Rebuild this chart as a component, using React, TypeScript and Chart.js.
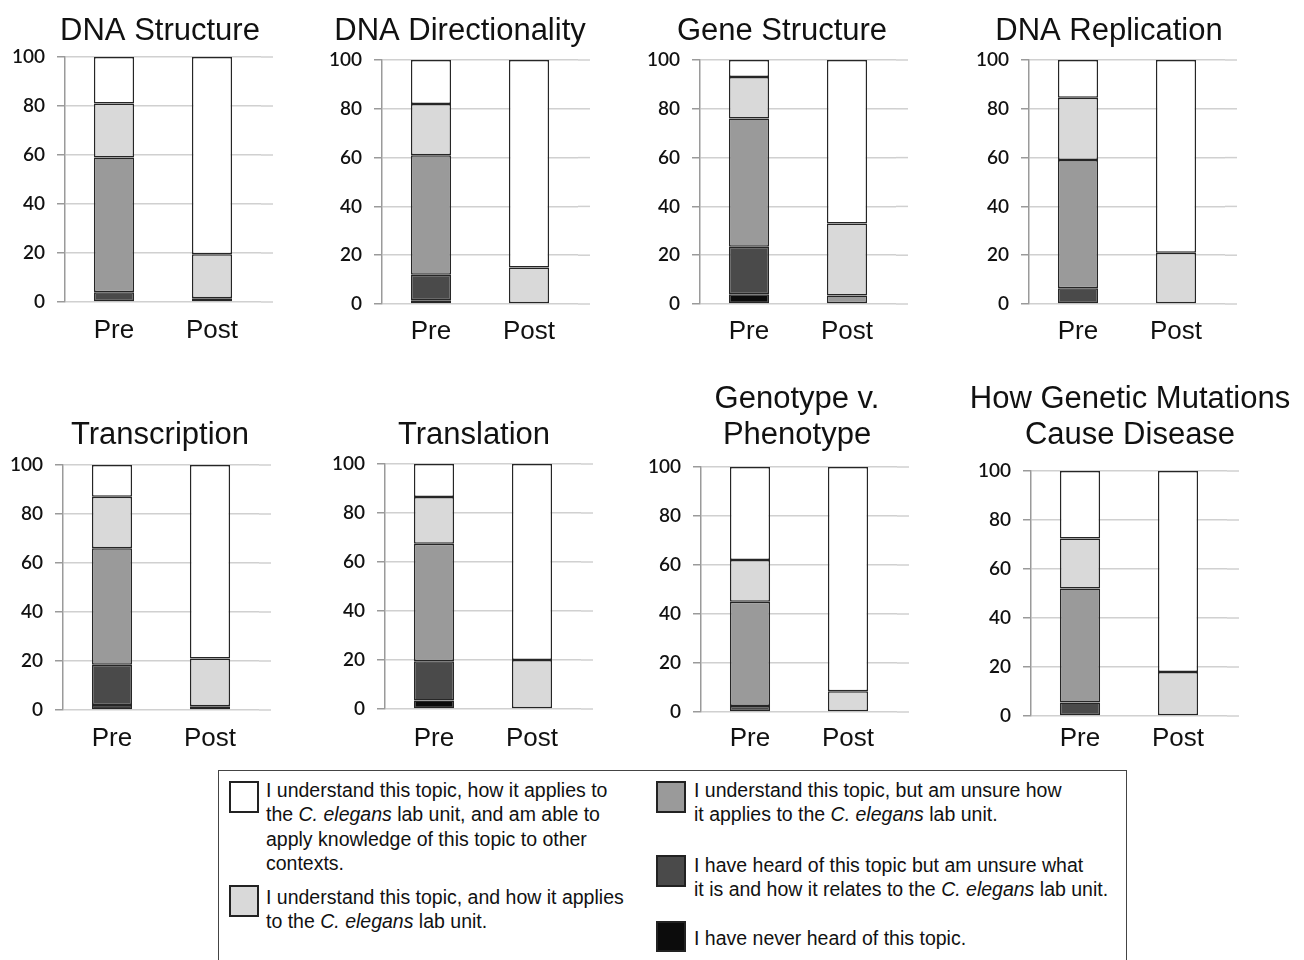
import React, { useEffect, useRef } from 'react';
import { Chart, registerables } from 'chart.js';

Chart.register(...registerables);

// ---------- data ----------
const TOPIC_TITLES: string[][] = [
  ['DNA Structure'],
  ['DNA Directionality'],
  ['Gene Structure'],
  ['DNA Replication'],
  ['Transcription'],
  ['Translation'],
  ['Genotype v.', 'Phenotype'],
  ['How Genetic Mutations', 'Cause Disease'],
];
const PHASES = ['Pre', 'Post'];
const Y_MIN = 0;
const Y_MAX = 100;
const Y_STEP = 20;

// percentages per topic (bottom of stack to top)
const NEVER_PRE = [0, 1.5, 4, 0, 2, 3.5, 0, 0];
const NEVER_POST = [0, 0, 0, 0, 0, 0, 0, 0];
const HEARD_PRE = [4, 10.5, 19.5, 6.5, 16.5, 16, 2.5, 5.5];
const HEARD_POST = [0, 0, 0, 0, 0, 0, 0, 0];
const UNSURE_PRE = [55, 49, 52.5, 52.5, 47.5, 48, 42.5, 46.5];
const UNSURE_POST = [1.5, 0, 3.5, 0, 1.5, 0, 0, 0];
const APPLIES_PRE = [22, 21, 17, 25.5, 21, 19, 17, 20.5];
const APPLIES_POST = [18, 15, 29.5, 21, 19.5, 20, 8.5, 18];
const OTHER_PRE = [19, 18, 7, 15.5, 13, 13.5, 38, 27.5];
const OTHER_POST = [80.5, 85, 67, 79, 79, 80, 91.5, 82];

const LEVEL_NAMES = [
  'I have never heard of this topic.',
  'I have heard of this topic but am unsure what it is and how it relates to the C. elegans lab unit.',
  'I understand this topic, but am unsure how it applies to the C. elegans lab unit.',
  'I understand this topic, and how it applies to the C. elegans lab unit.',
  'I understand this topic, how it applies to the C. elegans lab unit, and am able to apply knowledge of this topic to other contexts.',
];
const PRE_SERIES = [NEVER_PRE, HEARD_PRE, UNSURE_PRE, APPLIES_PRE, OTHER_PRE];
const POST_SERIES = [NEVER_POST, HEARD_POST, UNSURE_POST, APPLIES_POST, OTHER_POST];

// legend lines (*...* = italic)
const LEGEND_WHITE = [
  'I understand this topic, how it applies to',
  'the *C. elegans* lab unit, and am able to',
  'apply knowledge of this topic to other',
  'contexts.',
];
const LEGEND_LIGHT = ['I understand this topic, and how it applies', 'to the *C. elegans* lab unit.'];
const LEGEND_MID = ['I understand this topic, but am unsure how', 'it applies to the *C. elegans* lab unit.'];
const LEGEND_DARK = ['I have heard of this topic but am unsure what', 'it is and how it relates to the *C. elegans* lab unit.'];
const LEGEND_BLACK = ['I have never heard of this topic.'];

// ---------- styles / layout ----------
const COLORS = ['#0c0c0c', '#4a4a4a', '#9a9a9a', '#d9d9d9', '#ffffff'];
const BAR_BORDER = '#262626';
const GRID_COLOR = '#d0d0d0';
const AXIS_COLOR = '#9a9a9a';
const PLOT_W = 196;
const Y_W = 90;
const TITLE_LH = 36;

const LAYOUT = [
  { axisX: 65, yTop: 57, yBottom: 302, titleY: 31, d: 95, labelY: 330 },
  { axisX: 382, yTop: 60, yBottom: 304, titleY: 31, d: 78, labelY: 331 },
  { axisX: 700, yTop: 60, yBottom: 304, titleY: 31, d: 82, labelY: 331 },
  { axisX: 1029, yTop: 60, yBottom: 304, titleY: 31, d: 80, labelY: 331 },
  { axisX: 63, yTop: 465, yBottom: 710, titleY: 435, d: 97, labelY: 738 },
  { axisX: 385, yTop: 464, yBottom: 709, titleY: 435, d: 89, labelY: 738 },
  { axisX: 701, yTop: 467, yBottom: 712, titleY: 435, d: 96, labelY: 738 },
  { axisX: 1031, yTop: 471, yBottom: 716, titleY: 435, d: 99, labelY: 738 },
];

const gridExtend = {
  id: 'gridExtend',
  beforeDatasetsDraw(chart: any) {
    const { ctx, chartArea, scales } = chart;
    const y = scales.y;
    ctx.save();
    ctx.strokeStyle = GRID_COLOR;
    ctx.lineWidth = 1.5;
    y.ticks.forEach((t: any) => {
      const py = y.getPixelForValue(t.value);
      ctx.beginPath();
      ctx.moveTo(chartArea.right, py);
      ctx.lineTo(chartArea.right + 12, py);
      ctx.stroke();
    });
    ctx.restore();
  },
};

function geom(i: number) {
  const L = LAYOUT[i];
  const lines = TOPIC_TITLES[i].length;
  const R = 2 * L.d + Y_W - PLOT_W;
  const left = L.axisX - Y_W;
  const width = 2 * (L.d + Y_W);
  const top = L.titleY + TITLE_LH / 2 - lines * TITLE_LH;
  const pb = L.yTop - L.titleY - TITLE_LH / 2;
  const height = L.yBottom + 45 - top;
  return { L, R, left, width, top, pb, height };
}

function Panel({ index }: { index: number }) {
  const ref = useRef<HTMLCanvasElement | null>(null);
  const g = geom(index);
  useEffect(() => {
    if (!ref.current) return;
    const { L, R, pb } = g;
    const chart = new Chart(ref.current, {
      type: 'bar',
      data: {
        labels: PHASES,
        datasets: LEVEL_NAMES.map((name, k) => ({
          label: name,
          data: [PRE_SERIES[k][index], POST_SERIES[k][index]],
          backgroundColor: COLORS[k],
          borderColor: BAR_BORDER,
          borderWidth: (c: any) => (c.raw ? 1.5 : 0),
          borderSkipped: false,
          categoryPercentage: 1,
          barPercentage: 0.41,
        })),
      },
      options: {
        animation: false,
        responsive: false,
        layout: { padding: 0 },
        plugins: {
          legend: { display: false },
          tooltip: { enabled: false },
          title: {
            display: true,
            text: TOPIC_TITLES[index],
            color: '#111',
            font: { family: 'Liberation Sans, Arial, sans-serif', size: 31, weight: 'normal', lineHeight: 36 / 31 },
            padding: { top: 0, bottom: pb },
          },
        },
        scales: {
          x: {
            stacked: true,
            grid: { display: false, drawTicks: false },
            border: { display: false },
            ticks: {
              color: '#111',
              font: { family: 'Liberation Sans, Arial, sans-serif', size: 26 },
              padding: L.labelY - L.yBottom - 15,
            },
            afterFit: (s: any) => {
              s.height = 45;
            },
          },
          y: {
            stacked: true,
            min: Y_MIN,
            max: Y_MAX,
            ticks: {
              stepSize: Y_STEP,
              color: '#111',
              font: { family: 'Lato, sans-serif', size: 19, weight: '600' },
              padding: 12,
            },
            grid: { color: GRID_COLOR, lineWidth: 1.5, tickLength: 8, tickColor: AXIS_COLOR, drawTicks: true },
            border: { color: AXIS_COLOR, width: 1.5 },
            afterFit: (s: any) => {
              s.width = Y_W;
            },
          },
          yR: {
            position: 'right',
            display: true,
            grid: { display: false, drawTicks: false },
            border: { display: false },
            ticks: { display: false },
            afterFit: (s: any) => {
              s.width = R;
            },
          },
        },
      } as any,
      plugins: [gridExtend],
    });
    return () => chart.destroy();
  }, [index]);
  return (
    <canvas
      ref={ref}
      width={g.width}
      height={g.height}
      style={{ position: 'absolute', left: g.left, top: g.top, width: g.width, height: g.height }}
    />
  );
}

function RichLine({ text }: { text: string }) {
  const parts = text.split('*');
  return (
    <div style={{ whiteSpace: 'nowrap', height: 24.3, lineHeight: '24.3px' }}>
      {parts.map((p, i) => (i % 2 === 1 ? <i key={i}>{p}</i> : <span key={i}>{p}</span>))}
    </div>
  );
}

function LegendItem({ color, lines, swX, swY, textX, textY, w = 30, h = 32 }: any) {
  return (
    <>
      <div
        style={{
          position: 'absolute',
          left: swX,
          top: swY,
          width: w,
          height: h,
          boxSizing: 'border-box',
          background: color,
          border: '2px solid #222',
        }}
      />
      <div style={{ position: 'absolute', left: textX, top: textY }}>
        {lines.map((l: string, i: number) => (
          <RichLine key={i} text={l} />
        ))}
      </div>
    </>
  );
}

export default function App() {
  return (
    <div
      style={{
        position: 'absolute',
        left: 0,
        top: 0,
        width: 1304,
        height: 960,
        overflow: 'hidden',
        background: '#fff',
      }}
    >
      {TOPIC_TITLES.map((_, i) => (
        <Panel key={i} index={i} />
      ))}
      <div
        style={{
          position: 'absolute',
          left: 218,
          top: 770,
          width: 909,
          height: 194,
          boxSizing: 'border-box',
          border: '1.5px solid #444',
        }}
      />
      <div
        style={{
          fontFamily: 'Liberation Sans, Arial, sans-serif',
          fontSize: 19.5,
          color: '#111',
        }}
      >
        <LegendItem color={COLORS[4]} lines={LEGEND_WHITE} swX={229} swY={781} textX={266} textY={778} />
        <LegendItem color={COLORS[3]} lines={LEGEND_LIGHT} swX={229} swY={885} textX={266} textY={885} />
        <LegendItem color={COLORS[2]} lines={LEGEND_MID} swX={656} swY={781} textX={694} textY={778} />
        <LegendItem color={COLORS[1]} lines={LEGEND_DARK} swX={656} swY={855} textX={694} textY={853} />
        <LegendItem color={COLORS[0]} lines={LEGEND_BLACK} swX={656} swY={921} textX={694} textY={926} h={31} />
      </div>
    </div>
  );
}
